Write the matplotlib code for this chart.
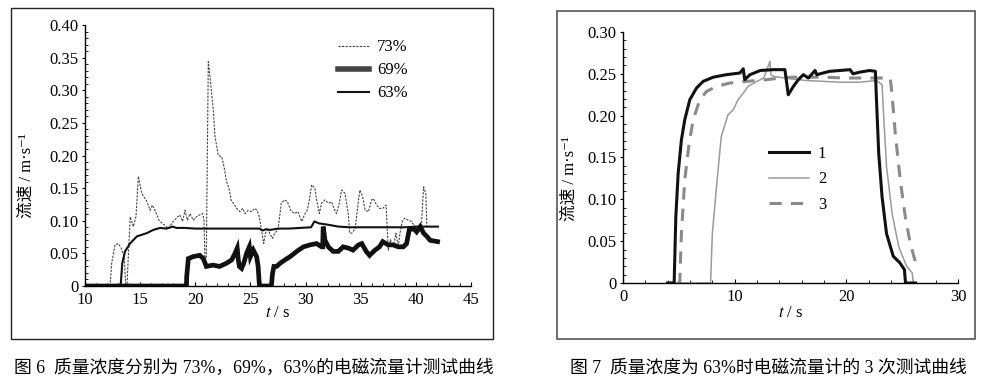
import matplotlib
matplotlib.use("Agg")
import matplotlib.pyplot as plt
from matplotlib.patches import Rectangle
from matplotlib.ticker import MultipleLocator, FuncFormatter

plt.rcParams['font.family'] = ['Liberation Serif', 'Noto Sans CJK SC', 'DejaVu Sans']
plt.rcParams['mathtext.fontset'] = 'stix'

# ---------------- Figure 6 data ----------------
t73 = [10, 12.27, 12.42, 12.72, 13.0, 13.23, 13.55, 13.7, 13.8, 14.1, 14.38, 14.62, 14.84, 15.14,
       15.6, 15.9, 16.1, 16.4, 16.7, 17.0, 17.25, 17.55, 18.0, 18.3, 18.6, 18.85, 19.07, 19.28,
       19.52, 19.82, 20.1, 20.4, 20.67, 20.79, 20.88, 21.0, 21.18, 21.33, 21.63, 21.79, 22.09,
       22.4, 22.6, 22.84, 23.09, 23.24, 23.45, 23.75, 24.05, 24.3, 24.5, 24.8, 25.1, 25.4, 25.6,
       25.8, 26.0, 26.2, 26.4, 26.6, 26.83, 27.0, 27.2, 27.5, 27.8, 28.1, 28.35, 28.65, 29.0,
       29.3, 29.65, 29.95, 30.15, 30.34, 30.55, 30.85, 31.0, 31.25, 31.45, 31.76, 32.06, 32.36,
       32.57, 32.8, 33.06, 33.27, 33.57, 33.87, 34.0, 34.2, 34.5, 34.8, 34.93, 35.17, 35.4, 35.7,
       35.99, 36.14, 36.44, 36.7, 37.0, 37.3, 37.4, 37.5, 37.7, 37.95, 38.2, 38.4, 38.56, 38.8,
       39.0, 39.3, 39.6, 39.9, 40.2, 40.5, 40.7, 40.9, 41.0]
v73 = [0, 0, 0.035, 0.063, 0.065, 0.06, 0.045, 0.0, 0.0, 0.106, 0.091, 0.106, 0.168, 0.142,
       0.13, 0.116, 0.124, 0.114, 0.101, 0.096, 0.093, 0.088, 0.099, 0.104, 0.109, 0.099, 0.116, 0.101,
       0.111, 0.101, 0.106, 0.109, 0.111, 0.101, 0.04, 0.045, 0.344, 0.321, 0.27, 0.229, 0.2,
       0.198, 0.183, 0.16, 0.147, 0.132, 0.127, 0.119, 0.114, 0.119, 0.111, 0.116, 0.114, 0.119, 0.116,
       0.106, 0.086, 0.065, 0.083, 0.086, 0.078, 0.073, 0.081, 0.086, 0.127, 0.132, 0.129, 0.116, 0.111,
       0.114, 0.099, 0.111, 0.116, 0.132, 0.155, 0.15, 0.132, 0.111, 0.127, 0.132, 0.127, 0.129,
       0.119, 0.111, 0.127, 0.147, 0.142, 0.111, 0.081, 0.081, 0.088, 0.132, 0.147, 0.137, 0.116, 0.114,
       0.132, 0.134, 0.124, 0.119, 0.119, 0.124, 0.091, 0.055, 0.071, 0.06, 0.081, 0.06, 0.081, 0.101,
       0.104, 0.101, 0.099, 0.091, 0.086, 0.091, 0.152, 0.142, 0.091]

t69 = [10, 19.2, 19.22, 19.37, 19.8, 20.4, 20.73, 21.0, 21.6, 22.2, 22.84, 23.3, 23.6, 23.8, 23.9,
       24.0, 24.2, 24.4, 24.65, 24.9, 25.0, 25.26, 25.56, 25.7, 25.78, 25.82, 26.9, 27.0, 27.13,
       27.38, 27.7, 28.13, 28.6, 29.2, 29.8, 30.4, 31.0, 31.45, 31.55, 31.6, 31.76, 32.06, 32.5,
       32.97, 33.4, 33.9, 34.3, 34.8, 35.1, 35.5, 35.8, 36.3, 36.7, 37.0, 37.5, 37.95, 38.4, 38.86,
       39.16, 39.4, 39.8, 40.07, 40.4, 40.7, 41.0, 41.3, 41.97]
v69 = [0, 0, 0.014, 0.042, 0.045, 0.047, 0.042, 0.03, 0.032, 0.03, 0.035, 0.04, 0.05, 0.058, 0.04,
       0.03, 0.027, 0.035, 0.05, 0.06, 0.045, 0.055, 0.045, 0.03, 0.009, 0, 0, 0.019, 0.03,
       0.03, 0.035, 0.04, 0.045, 0.053, 0.06, 0.063, 0.065, 0.06, 0.06, 0.091, 0.07, 0.06, 0.053,
       0.053, 0.06, 0.058, 0.055, 0.063, 0.065, 0.053, 0.047, 0.055, 0.06, 0.068, 0.063, 0.063, 0.06, 0.06,
       0.065, 0.086, 0.088, 0.083, 0.091, 0.081, 0.076, 0.07, 0.068]

t63 = [10, 13.23, 13.38, 13.63, 14.08, 14.7, 15.6, 16.2, 16.8, 17.4, 17.95, 18.3, 19, 20, 21, 22,
       23, 24, 25, 25.8, 26.1, 26.4, 26.8, 27.5, 28.5, 29.5, 30.5, 30.8, 31.2, 32, 33, 34, 35, 36,
       37, 38, 39, 40, 41, 42]
v63 = [0, 0, 0.035, 0.053, 0.065, 0.076, 0.081, 0.086, 0.089, 0.088, 0.091, 0.089, 0.089, 0.088,
       0.088, 0.088, 0.088, 0.088, 0.088, 0.088, 0.085, 0.087, 0.086, 0.088, 0.088, 0.089, 0.090,
       0.099, 0.096, 0.094, 0.091, 0.090, 0.090, 0.090, 0.090, 0.090, 0.090, 0.091, 0.091, 0.091]

labels6 = ['73%', '69%', '63%']

# ---------------- Figure 7 data ----------------
t1 = [3.98, 4.58, 4.73, 4.94, 5.23, 5.53, 5.98, 6.58, 7.18, 8.08, 9.27, 10.47, 10.77, 10.9, 11.37,
      12.3, 13.5, 14.5, 14.8, 15.26, 15.7, 16.15, 16.6, 17.2, 17.35, 18.5, 20.34, 20.6, 21.2, 22.1,
      22.6, 22.7, 22.9, 23.2, 23.6, 24.2, 24.8, 25.2, 25.3, 26.2]
v1 = [0, 0, 0.079, 0.131, 0.171, 0.195, 0.219, 0.233, 0.241, 0.246, 0.249, 0.251, 0.256, 0.243, 0.249,
      0.254, 0.255, 0.255, 0.225, 0.235, 0.243, 0.249, 0.245, 0.254, 0.249, 0.253, 0.255, 0.25, 0.252, 0.254,
      0.253, 0.219, 0.155, 0.103, 0.059, 0.032, 0.024, 0.016, 0, 0]

t2 = [4.8, 7.84, 8.0, 8.4, 8.8, 9.4, 9.87, 10.3, 10.77, 11.2, 12.0, 12.6, 13.0, 13.16, 13.25, 13.46,
      15.0, 16.45, 17.95, 19.44, 21.2, 22.7, 23.2, 23.33, 23.6, 24.1, 24.7, 25.4, 25.9, 26.0, 26.2]
v2 = [0, 0, 0.059, 0.119, 0.175, 0.201, 0.207, 0.219, 0.227, 0.235, 0.241, 0.245, 0.259, 0.265, 0.249,
      0.247, 0.244, 0.242, 0.241, 0.24, 0.24, 0.242, 0.237, 0.203, 0.139, 0.083, 0.043, 0.02, 0.012, 0, 0]

t3 = [4.9, 5.08, 5.23, 5.53, 5.92, 6.28, 6.88, 7.48, 8.38, 9.57, 11.07, 12.86, 14.06, 15.26, 16.45,
      17.95, 20.04, 21.84, 23.63, 23.93, 24.08, 24.38, 24.83, 25.28, 25.73, 26.17]
v3 = [0, 0, 0.059, 0.123, 0.167, 0.195, 0.219, 0.229, 0.235, 0.239, 0.241, 0.243, 0.245, 0.246, 0.246,
      0.246, 0.245, 0.245, 0.245, 0.245, 0.227, 0.179, 0.123, 0.079, 0.047, 0.026]

labels7 = ['1', '2', '3']

caption6 = '图 6\u2002质量浓度分别为 73%，69%，63%的电磁流量计测试曲线'
caption7 = '图 7\u2002质量浓度为 63%时电磁流量计的 3 次测试曲线'
ylabel = '流速 / m·s⁻¹'

W, H = 986, 388
fig = plt.figure(figsize=(W / 100, H / 100), dpi=100)


def px_axes(x0, y_top, x1, y_bot):
    return fig.add_axes([x0 / W, 1 - y_bot / H, (x1 - x0) / W, (y_bot - y_top) / H])


def fmt(v, pos):
    return '0' if abs(v) < 1e-9 else f'{v:.2f}'


def style(ax):
    for s in ['top', 'right']:
        ax.spines[s].set_visible(False)
    for s in ['left', 'bottom']:
        ax.spines[s].set_linewidth(1.0)
    ax.yaxis.set_major_formatter(FuncFormatter(fmt))
    ax.tick_params(axis='y', which='major', direction='out', length=2.5, width=0.8, labelsize=12, pad=2)
    ax.tick_params(axis='y', which='minor', direction='in', length=1.8, width=0.6)
    ax.tick_params(axis='x', which='major', direction='in', length=3, width=0.8, labelsize=12, pad=4)
    ax.tick_params(axis='x', which='minor', direction='in', length=2, width=0.6)
    ax.yaxis.set_minor_locator(MultipleLocator(0.01))
    ax.patch.set_alpha(0)


# frames
fig.patches.append(Rectangle((11 / W, 1 - 339 / H), 482 / W, 331 / H, transform=fig.transFigure,
                             fill=False, edgecolor='#222222', linewidth=1.0))
fig.patches.append(Rectangle((557 / W, 1 - 339 / H), 418 / W, 328 / H, transform=fig.transFigure,
                             fill=False, edgecolor='#555555', linewidth=1.2))

# ---- left panel ----
axL = px_axes(85, 25, 471, 286)
axL.plot(t73, v73, color='#444444', lw=0.8, dashes=(2, 1.2), label=labels6[0])
axL.plot(t69, v69, color='#111111', lw=3.4, label=labels6[1], solid_joinstyle='miter')
axL.plot(t63, v63, color='#111111', lw=1.5, label=labels6[2])
axL.set_xlim(10, 45)
axL.set_ylim(0, 0.40)
axL.xaxis.set_major_locator(MultipleLocator(5))
axL.xaxis.set_minor_locator(MultipleLocator(1))
axL.yaxis.set_major_locator(MultipleLocator(0.05))
style(axL)
handles, labs = axL.get_legend_handles_labels()
handles[1] = plt.Line2D([], [], color='#444444', lw=4)
axL.legend(handles, labs, loc='upper left', bbox_to_anchor=(0.655, 0.945), frameon=False,
           fontsize=12, handlelength=1.9, handletextpad=0.45, labelspacing=0.42,
           borderpad=0, borderaxespad=0)
axL.set_xlabel('$t$ / s', fontsize=12)
axL.xaxis.set_label_coords(0.5, -0.103)
axL.xaxis.label.set_va('center')
axL.set_ylabel(ylabel, fontsize=12)
axL.yaxis.set_label_coords(-0.15, 0.425)
axL.yaxis.label.set_va('center')

# ---- right panel ----
axR = px_axes(623, 32, 958, 283)
axR.plot(t2, v2, color='#9a9a9a', lw=1.1, label=labels7[1])
axR.plot(t3, v3, color='#8a8a8a', lw=2.2, dashes=(4, 3), label=labels7[2])
axR.plot(t1, v1, color='#111111', lw=2.2, label=labels7[0])
axR.set_xlim(0, 30)
axR.set_ylim(0, 0.30)
axR.xaxis.set_major_locator(MultipleLocator(10))
axR.xaxis.set_minor_locator(MultipleLocator(2))
axR.yaxis.set_major_locator(MultipleLocator(0.05))
style(axR)
h, l = axR.get_legend_handles_labels()
order = [2, 0, 1]
axR.legend([h[i] for i in order], [l[i] for i in order], loc='upper left',
           bbox_to_anchor=(0.435, 0.545), frameon=False, fontsize=12, handlelength=2.4,
           handletextpad=0.55, labelspacing=0.55, borderpad=0, borderaxespad=0)
axR.set_xlabel('$t$ / s', fontsize=12)
axR.xaxis.set_label_coords(0.5, -0.12)
axR.xaxis.label.set_va('center')
axR.set_ylabel(ylabel, fontsize=12)
axR.yaxis.set_label_coords(-0.158, 0.418)
axR.yaxis.label.set_va('center')

# captions
fig.text(14 / W, 1 - 368 / H, caption6, fontsize=12.8, va='center', ha='left')
fig.text(570 / W, 1 - 368 / H, caption7, fontsize=12.8, va='center', ha='left')

fig.savefig('out.png', dpi=100)
